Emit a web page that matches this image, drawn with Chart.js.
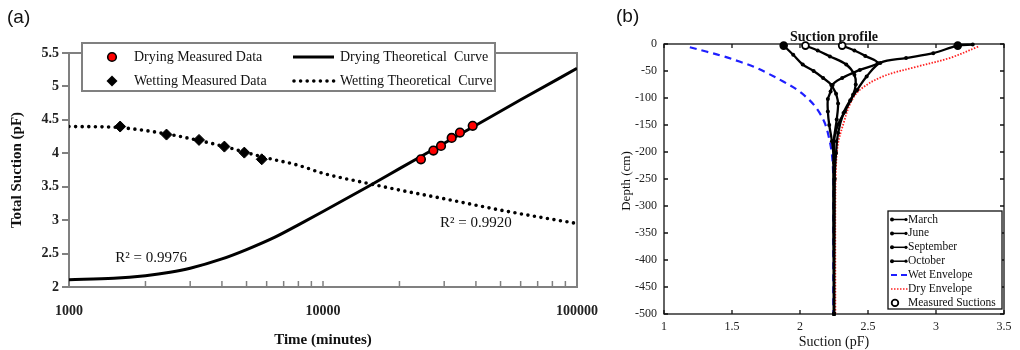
<!DOCTYPE html>
<html>
<head>
<meta charset="utf-8">
<script src="https://cdn.jsdelivr.net/npm/chart.js@4.4.1/dist/chart.umd.min.js"></script>
<style>
  html, body { margin: 0; padding: 0; background: #fff; }
  #wrap { position: relative; width: 1020px; height: 350px; overflow: hidden; }
  #ca { position: absolute; left: 0; top: 0; }
  #cb { position: absolute; left: 605px; top: 0; }
</style>
</head>
<body>
<div id="wrap">
  <canvas id="ca" width="605" height="350"></canvas>
  <canvas id="cb" width="415" height="350"></canvas>
</div>
<script>
const SERIF = '"Liberation Serif", "Times New Roman", serif';
const SANS = '"Liberation Sans", Arial, sans-serif';

// ---- (a) suction vs time ----
const dryMeasT = [24300, 27200, 29150, 32100, 34600, 38850];
const dryMeasY = [3.91, 4.04, 4.11, 4.23, 4.31, 4.41];
const wetMeasT = [1590, 2420, 3250, 4090, 4900, 5740];
const wetMeasY = [4.40, 4.28, 4.20, 4.10, 4.01, 3.91];
const dryCurveT = [1000, 1500, 2000, 2500, 3000, 4000, 5000, 6500, 8000, 10000, 15000, 20000, 30000, 40000, 60000, 100000];
const dryCurveY = [2.11, 2.13, 2.17, 2.22, 2.28, 2.42, 2.56, 2.75, 2.93, 3.13, 3.50, 3.77, 4.15, 4.42, 4.80, 5.27];
const wetCurveT = [1000, 1500, 2000, 2500, 3000, 4000, 5000, 6000, 8000, 10000, 15000, 20000, 30000, 50000, 70000, 100000];
const wetCurveY = [4.40, 4.39, 4.34, 4.28, 4.22, 4.11, 4.01, 3.93, 3.82, 3.70, 3.55, 3.45, 3.32, 3.15, 3.05, 2.95];
const timeTicks = [1000, 10000, 100000];
const timeMinor = [2000, 3000, 4000, 5000, 6000, 7000, 8000, 9000, 10000, 20000, 30000, 40000, 50000, 60000, 70000, 80000, 90000];
const suctionTicksA = [2, 2.5, 3, 3.5, 4, 4.5, 5, 5.5];
const r2Texts = ['R\u00b2 = 0.9976', 'R\u00b2 = 0.9920'];
const r2AtT = [1520, 28900];
const r2AtY = [2.43, 2.96];

// ---- (b) suction profile ----
const months = ['March', 'June', 'September', 'October'];
const marchX = [1.88, 1.95, 2.02, 2.10, 2.17, 2.23, 2.225, 2.205, 2.205, 2.215, 2.235, 2.25, 2.25];
const marchY = [-3, -20, -38, -50, -63, -76, -88, -102, -125, -150, -180, -220, -500];
const juneX = [2.04, 2.13, 2.22, 2.34, 2.40, 2.41, 2.39, 2.33, 2.28, 2.25, 2.25];
const juneY = [-3, -12, -23, -38, -57, -75, -94, -125, -149, -180, -500];
const septX = [2.31, 2.40, 2.48, 2.57, 2.44, 2.31, 2.24, 2.265, 2.28, 2.27, 2.25, 2.25];
const septY = [-3, -12, -22, -35, -48, -63, -76, -92, -110, -140, -180, -500];
const octX = [3.27, 3.16, 2.98, 2.78, 2.59, 2.49, 2.42, 2.37, 2.32, 2.28, 2.265, 2.255, 2.25];
const octY = [-1, -3, -17, -26, -35, -60, -85, -104, -128, -165, -202, -250, -500];
const wetEnvX = [1.19, 1.31, 1.44, 1.56, 1.66, 1.76, 1.88, 1.98, 2.07, 2.13, 2.18, 2.21, 2.235, 2.245, 2.245, 2.245];
const wetEnvY = [-6, -14, -23, -33, -42, -54, -70, -85, -104, -122, -145, -170, -205, -250, -300, -500];
const dryEnvX = [3.31, 3.10, 2.86, 2.61, 2.44, 2.37, 2.32, 2.28, 2.265, 2.26, 2.26];
const dryEnvY = [-5, -26, -42, -60, -85, -110, -147, -184, -227, -300, -500];
const measX = [1.88, 2.04, 2.31, 3.16];
const measY = [-3, -3, -3, -3];
const measFill = ['#000', '#fff', '#fff', '#000'];
const suctionTicksB = [1, 1.5, 2, 2.5, 3, 3.5];
const depthTicks = [0, -50, -100, -150, -200, -250, -300, -350, -400, -450, -500];

const pts = (xs, ys) => xs.map((x, i) => ({ x, y: ys[i] }));

// ---------- chart (a) ----------
const decorA = {
  id: 'decorA',
  beforeDatasetsDraw(chart) {
    const { ctx, chartArea: a, scales: { x } } = chart;
    ctx.save();
    ctx.strokeStyle = '#808080';
    ctx.lineWidth = 2;
    ctx.beginPath();
    ctx.moveTo(a.left, a.top); ctx.lineTo(a.right, a.top); ctx.lineTo(a.right, a.bottom);
    ctx.stroke();
    ctx.lineWidth = 1.5;
    for (const v of timeMinor) {
      const px = x.getPixelForValue(v);
      ctx.beginPath(); ctx.moveTo(px, a.bottom); ctx.lineTo(px, a.bottom - 6); ctx.stroke();
    }
    ctx.restore();
  },
  afterDraw(chart) {
    const { ctx, scales: { x, y } } = chart;
    ctx.save();
    // legend
    ctx.fillStyle = '#fff';
    ctx.fillRect(82, 43, 413, 48);
    ctx.strokeStyle = '#808080';
    ctx.lineWidth = 2;
    ctx.strokeRect(82, 43, 413, 48);
    ctx.fillStyle = '#ff0000';
    ctx.strokeStyle = '#000';
    ctx.lineWidth = 1.6;
    ctx.beginPath(); ctx.arc(112, 57, 4.3, 0, Math.PI * 2); ctx.fill(); ctx.stroke();
    ctx.fillStyle = '#000';
    ctx.beginPath(); ctx.moveTo(112, 75.5); ctx.lineTo(117.5, 81); ctx.lineTo(112, 86.5); ctx.lineTo(106.5, 81); ctx.closePath(); ctx.fill();
    ctx.lineWidth = 3;
    ctx.beginPath(); ctx.moveTo(293, 57); ctx.lineTo(334, 57); ctx.stroke();
    ctx.lineCap = 'round';
    ctx.lineWidth = 3.6;
    ctx.setLineDash([0, 6.6]);
    ctx.beginPath(); ctx.moveTo(294, 81); ctx.lineTo(334, 81); ctx.stroke();
    ctx.setLineDash([]);
    ctx.font = '14px ' + SERIF;
    ctx.textBaseline = 'middle';
    ctx.fillStyle = '#111';
    ctx.fillText('Drying Measured Data', 134, 57);
    ctx.fillText('Wetting Measured Data', 134, 81);
    ctx.fillText('Drying Theoretical  Curve', 340, 57);
    ctx.fillText('Wetting Theoretical  Curve', 340, 81);
    // R2 labels
    ctx.font = '15px ' + SERIF;
    for (let i = 0; i < r2Texts.length; i++) {
      ctx.fillText(r2Texts[i], x.getPixelForValue(r2AtT[i]), y.getPixelForValue(r2AtY[i]));
    }
    // axis titles
    ctx.font = 'bold 15px ' + SERIF;
    ctx.textAlign = 'center';
    ctx.fillText('Time (minutes)', 323, 340);
    ctx.translate(17, 170);
    ctx.rotate(-Math.PI / 2);
    ctx.fillText('Total Suction (pF)', 0, 0);
    ctx.restore();
    ctx.save();
    ctx.font = '19px ' + SANS;
    ctx.textBaseline = 'middle';
    ctx.fillStyle = '#111';
    ctx.fillText('(a)', 7, 18);
    ctx.restore();
  }
};

new Chart(document.getElementById('ca'), {
  type: 'scatter',
  data: {
    datasets: [
      { label: 'Drying Measured Data', data: pts(dryMeasT, dryMeasY), showLine: false, pointStyle: 'circle', pointRadius: 4.3, pointBackgroundColor: '#ff0000', pointBorderColor: '#000', pointBorderWidth: 1.6 },
      { label: 'Wetting Measured Data', data: pts(wetMeasT, wetMeasY), showLine: false, pointStyle: 'rectRot', pointRadius: 5.5, pointBackgroundColor: '#000', pointBorderColor: '#000', pointBorderWidth: 1 },
      { label: 'Drying Theoretical Curve', data: pts(dryCurveT, dryCurveY), showLine: true, borderColor: '#000', borderWidth: 3, pointRadius: 0, cubicInterpolationMode: 'monotone' },
      { label: 'Wetting Theoretical Curve', data: pts(wetCurveT, wetCurveY), showLine: true, borderColor: '#000', borderWidth: 3.6, borderDash: [0, 6.6], borderCapStyle: 'round', pointRadius: 0, cubicInterpolationMode: 'monotone' }
    ]
  },
  options: {
    responsive: false,
    animation: false,
    layout: { padding: { left: 0, right: 28, top: 53, bottom: 0 } },
    plugins: { legend: { display: false }, tooltip: { enabled: false } },
    scales: {
      x: {
        type: 'logarithmic', min: 1000, max: 100000,
        afterBuildTicks: (s) => { s.ticks = timeTicks.map((v) => ({ value: v })); },
        afterFit: (s) => { s.height = 63; s.paddingLeft = 0; s.paddingRight = 0; },
        grid: { display: false, drawTicks: false },
        border: { color: '#808080', width: 2 },
        ticks: { padding: 16, color: '#222', maxRotation: 0, font: { family: SERIF, size: 14, weight: 'bold' }, callback: (v) => String(v) }
      },
      y: {
        min: 2, max: 5.5,
        afterBuildTicks: (s) => { s.ticks = suctionTicksA.map((v) => ({ value: v })); },
        afterFit: (s) => { s.width = 69; s.paddingTop = 0; s.paddingBottom = 0; },
        grid: { display: true, drawOnChartArea: false, drawTicks: true, tickLength: 7, color: '#808080', lineWidth: 2 },
        border: { color: '#808080', width: 2 },
        ticks: { padding: 3, color: '#222', font: { family: SERIF, size: 14, weight: 'bold' }, callback: (v) => String(v) }
      }
    }
  },
  plugins: [decorA]
});

// ---------- chart (b) ----------
const decorB = {
  id: 'decorB',
  beforeDatasetsDraw(chart) {
    const { ctx, chartArea: a, scales: { x, y } } = chart;
    ctx.save();
    ctx.strokeStyle = '#111';
    ctx.lineWidth = 1.3;
    ctx.strokeRect(a.left, a.top, a.right - a.left, a.bottom - a.top);
    ctx.beginPath();
    for (const v of suctionTicksB) {
      const px = x.getPixelForValue(v);
      ctx.moveTo(px, a.bottom); ctx.lineTo(px, a.bottom - 4);
      ctx.moveTo(px, a.top); ctx.lineTo(px, a.top + 4);
    }
    for (const v of depthTicks) {
      const py = y.getPixelForValue(v);
      ctx.moveTo(a.left, py); ctx.lineTo(a.left + 4, py);
      ctx.moveTo(a.right, py); ctx.lineTo(a.right - 4, py);
    }
    ctx.stroke();
    ctx.restore();
  },
  afterDraw(chart) {
    const { ctx, chartArea: a } = chart;
    ctx.save();
    ctx.fillStyle = '#111';
    ctx.textAlign = 'center';
    ctx.textBaseline = 'alphabetic';
    ctx.font = 'bold 14px ' + SERIF;
    ctx.fillText('Suction profile', (a.left + a.right) / 2, a.top - 3);
    ctx.font = '14px ' + SERIF;
    ctx.textBaseline = 'middle';
    ctx.fillText('Suction (pF)', (a.left + a.right) / 2, 342);
    ctx.save();
    ctx.font = '13px ' + SERIF;
    ctx.translate(22, 181);
    ctx.rotate(-Math.PI / 2);
    ctx.fillText('Depth (cm)', 0, 0);
    ctx.restore();
    // legend
    const lx = 283, ly = 211, lw = 114, lh = 98;
    ctx.fillStyle = '#fff';
    ctx.fillRect(lx, ly, lw, lh);
    ctx.strokeStyle = '#111';
    ctx.lineWidth = 1.3;
    ctx.strokeRect(lx, ly, lw, lh);
    const rows = [...months, 'Wet Envelope', 'Dry Envelope', 'Measured Suctions'];
    ctx.textAlign = 'left';
    ctx.font = '11.5px ' + SERIF;
    rows.forEach((name, i) => {
      const ry = 219.5 + i * 13.9;
      ctx.save();
      if (i < 4) {
        ctx.strokeStyle = '#000'; ctx.lineWidth = 1.5;
        ctx.beginPath(); ctx.moveTo(286, ry); ctx.lineTo(302, ry); ctx.stroke();
        ctx.fillStyle = '#000';
        ctx.beginPath(); ctx.arc(287, ry, 2, 0, Math.PI * 2); ctx.fill();
        ctx.beginPath(); ctx.arc(301, ry, 1.6, 0, Math.PI * 2); ctx.fill();
      } else if (i === 4) {
        ctx.strokeStyle = '#1f1fff'; ctx.lineWidth = 2; ctx.setLineDash([6, 4]);
        ctx.beginPath(); ctx.moveTo(286, ry); ctx.lineTo(303, ry); ctx.stroke();
      } else if (i === 5) {
        ctx.strokeStyle = '#ff2020'; ctx.lineWidth = 1.5; ctx.setLineDash([1.5, 1.5]);
        ctx.beginPath(); ctx.moveTo(286, ry); ctx.lineTo(303, ry); ctx.stroke();
      } else {
        ctx.strokeStyle = '#000'; ctx.lineWidth = 1.8;
        ctx.beginPath(); ctx.arc(290, ry, 3.3, 0, Math.PI * 2); ctx.stroke();
      }
      ctx.restore();
      ctx.fillStyle = '#111';
      ctx.fillText(name, 303, ry);
    });
    ctx.restore();
    ctx.save();
    ctx.font = '19px ' + SANS;
    ctx.textBaseline = 'middle';
    ctx.fillStyle = '#111';
    ctx.fillText('(b)', 11, 17);
    ctx.restore();
  }
};

const monthLine = (label, xs, ys) => ({
  label, data: pts(xs, ys), showLine: true, borderColor: '#000', borderWidth: 2.3,
  pointRadius: 2, pointBackgroundColor: '#000', pointBorderColor: '#000', pointBorderWidth: 0,
  tension: 0.35, clip: false
});

new Chart(document.getElementById('cb'), {
  type: 'scatter',
  data: {
    datasets: [
      { label: 'Measured Suctions', data: pts(measX, measY), showLine: false, pointRadius: 3.4, pointBackgroundColor: measFill, pointBorderColor: '#000', pointBorderWidth: 1.8, clip: false },
      monthLine(months[0], marchX, marchY),
      monthLine(months[1], juneX, juneY),
      monthLine(months[2], septX, septY),
      monthLine(months[3], octX, octY),
      { label: 'Wet Envelope', data: pts(wetEnvX, wetEnvY), showLine: true, borderColor: '#1f1fff', borderWidth: 2.2, borderDash: [7, 5], pointRadius: 0, tension: 0.35, clip: false },
      { label: 'Dry Envelope', data: pts(dryEnvX, dryEnvY), showLine: true, borderColor: '#ff2020', borderWidth: 1.8, borderDash: [1.5, 1.5], pointRadius: 0, tension: 0.35, clip: false }
    ]
  },
  options: {
    responsive: false,
    animation: false,
    layout: { padding: { left: 0, right: 16, top: 44, bottom: 0 } },
    plugins: { legend: { display: false }, tooltip: { enabled: false } },
    scales: {
      x: {
        type: 'linear', min: 1, max: 3.5,
        afterBuildTicks: (s) => { s.ticks = suctionTicksB.map((v) => ({ value: v })); },
        afterFit: (s) => { s.height = 36; s.paddingLeft = 0; s.paddingRight = 0; },
        grid: { display: false, drawTicks: false },
        border: { display: false },
        ticks: { padding: 6, color: '#222', maxRotation: 0, font: { family: SERIF, size: 12 }, callback: (v) => String(v) }
      },
      y: {
        min: -500, max: 0,
        afterBuildTicks: (s) => { s.ticks = depthTicks.map((v) => ({ value: v })); },
        afterFit: (s) => { s.width = 59; s.paddingTop = 0; s.paddingBottom = 0; },
        grid: { display: false, drawTicks: false },
        border: { display: false },
        ticks: { padding: 7, color: '#222', font: { family: SERIF, size: 12 }, callback: (v) => String(v) }
      }
    }
  },
  plugins: [decorB]
});
</script>
</body>
</html>
